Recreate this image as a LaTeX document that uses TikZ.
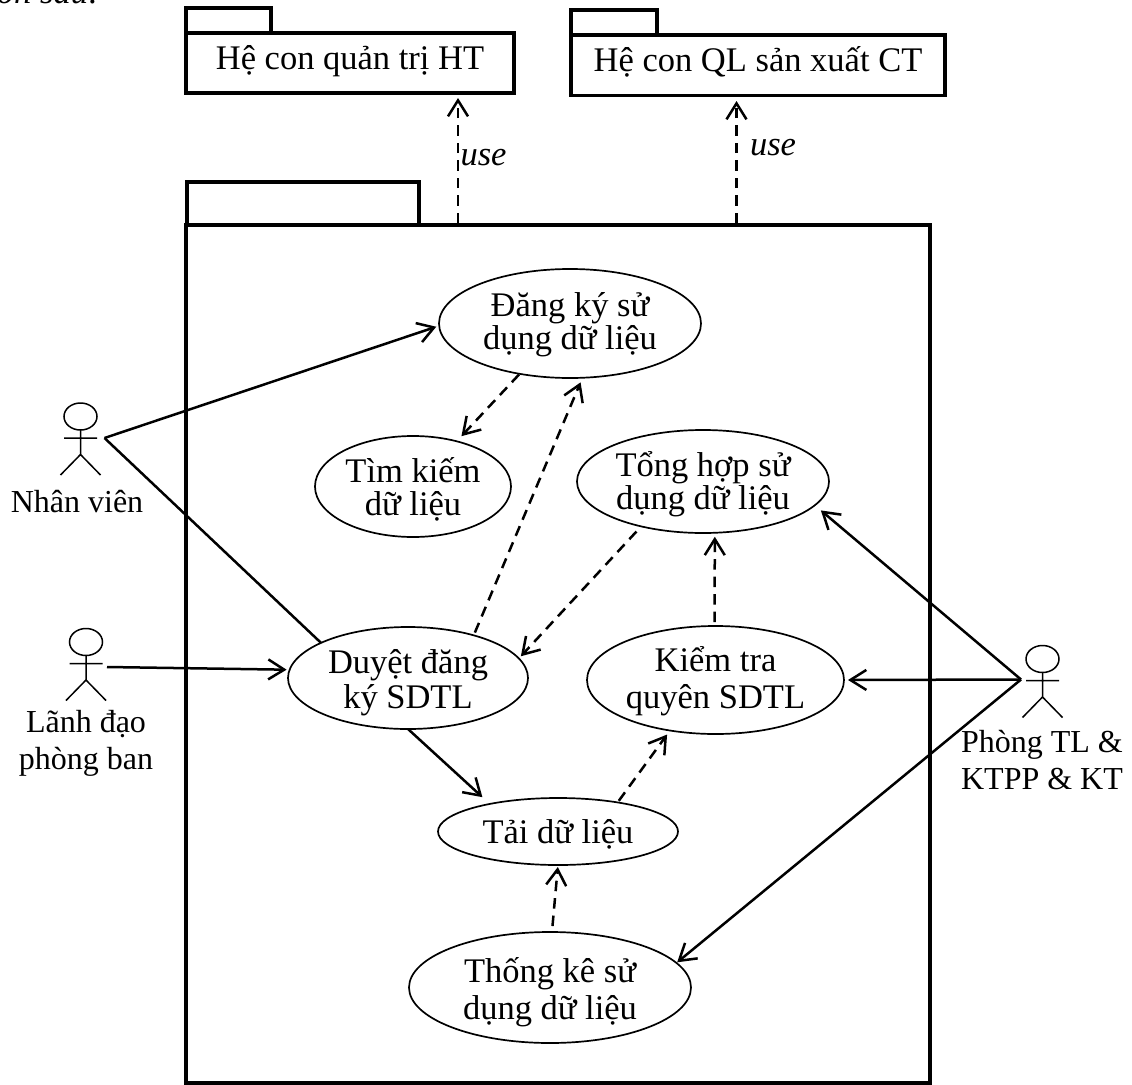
\documentclass[tikz,border=0pt]{standalone}
\usepackage{fontspec}
\setmainfont{Liberation Serif}
\usetikzlibrary{arrows.meta,shapes.geometric}
\tikzset{
  x=1pt,y=-1pt,
  every node/.style={font=\fontsize{34.5}{37}\selectfont,align=center,inner sep=0pt,outer sep=0pt},
  uc/.style args={#1/#2/#3}{ellipse,draw,line width=1.7pt,minimum width=#1,minimum height=#2,
     font=\fontsize{34.5}{#3}\selectfont},
  pkg/.style={draw,line width=3.4pt},
  actorline/.style={line width=1.5pt},
  actorlabel/.style={font=\fontsize{32}{37}\selectfont},
  opentip/.style={-{Straight Barb[length=16pt,width=20pt,line width=2.5pt]}},
  assoc/.style={line width=2.5pt},
  dep/.style={line width=2.5pt,dash pattern=on 10.5pt off 7pt,opentip},
}
\newcommand{\lowertext}[2]{\raisebox{-#1}[\height][\depth]{#2}}
\newcommand{\actor}[2]{% x, y of head centre
  \draw[actorline] (#1,#2) circle[x radius=16.5,y radius=13.5];
  \draw[actorline] (#1,#2+13.5) -- (#1,#2+38)
    (#1-16.5,#2+21.5) -- (#1+16.5,#2+21.5)
    (#1-20,#2+58.5) -- (#1,#2+38) -- (#1+20,#2+58.5);
}
\begin{document}
\begin{tikzpicture}
\useasboundingbox (0,0) rectangle (1132,1084);
\begin{scope}
\clip (0,0) rectangle (1132,1084);
\node[anchor=base west,font=\fontsize{34.5}{37}\selectfont\itshape] (top) at (-3,3.5) {ồn sau:};
% packages
\draw[pkg] (186,33) -- (186,8) -- (271,8) -- (271,33);
\draw[pkg] (186,33) rectangle (514,93);
\node[anchor=base] (p1) at (350,69) {Hệ con quản trị HT};
\coordinate (p1b) at (458,98);
\draw[pkg] (571,35) -- (571,10) -- (657,10) -- (657,35);
\draw[pkg] (571,35) rectangle (945,95.5);
\node[anchor=base] (p2) at (758,71) {Hệ con QL sản xuất CT};
\coordinate (p2b) at (736.5,101);
\draw[pkg] (187,225) -- (187,182) -- (419,182) -- (419,225);
\draw[pkg] (186,1083) -- (186,225) -- (930,225) -- (930,1083) -- cycle;
\coordinate (m1) at (458,223);
\coordinate (m2) at (736.5,223);
% use cases
\node[uc=262pt/109pt/33pt] (a) at (570,323.5) {\lowertext{1pt}{Đăng ký sử}\\\lowertext{1pt}{dụng dữ liệu}};
\node[uc=196pt/101pt/33pt] (b) at (413,486.5) {\lowertext{2.5pt}{Tìm kiếm}\\\lowertext{2.5pt}{dữ liệu}};
\node[uc=252pt/103pt/33pt] (c) at (703,481.5) {\lowertext{3pt}{Tổng hợp sử}\\\lowertext{3pt}{dụng dữ liệu}};
\node[uc=240pt/102pt/35pt] (d) at (408,678) {\lowertext{5pt}{Duyệt đăng}\\\lowertext{5pt}{ký SDTL}};
\node[uc=257pt/108pt/37pt] (e) at (715.5,680) {\lowertext{1pt}{Kiểm tra}\\\lowertext{1pt}{quyên SDTL}};
\node[uc=240pt/67pt/37pt] (f) at (558,831.5) {\lowertext{3pt}{Tải dữ liệu}};
\node[uc=282pt/111pt/37pt] (g) at (550,987.5) {\lowertext{5pt}{Thống kê sử}\\\lowertext{5pt}{dụng dữ liệu}};
% actors
\actor{80.5}{416.5}
\actor{86}{642}
\actor{1042.5}{659}
\coordinate (A1e) at (104.5,438);
\coordinate (A2e) at (107,667);
\coordinate (A3e) at (1021,679.5);
\node[actorlabel] (n1) at (77,502) {Nhân viên};
\node[actorlabel] (n2) at (86,743) {Lãnh đạo\\phòng ban};
\node[actorlabel] (n3) at (1042,760) {Phòng TL \&\\KTPP \& KT};
% use labels
\node[anchor=base,font=\fontsize{34.5}{37}\selectfont\itshape] (u1) at (483.5,165) {use};
\node[anchor=base,font=\fontsize{34.5}{37}\selectfont\itshape] (u2) at (773,155) {use};
% connectors
\draw[dep] (m1) -- (p1b);
\draw[dep] (m2) -- (p2b);
\draw[assoc,opentip,shorten >=3pt] (A1e) -- (a.181);
\draw[assoc] (A1e) -- (d.158);
\draw[assoc,opentip,shorten >=3pt] (A2e) -- (d.176);
\draw[assoc,opentip,shorten >=4pt] (A3e) -- (e.0);
\draw[assoc,opentip,shorten >=8pt] (A3e) -- (c.348);
\draw[assoc,opentip,shorten >=1pt] (A3e) -- (g.11);
\draw[assoc,opentip,shorten >=10pt] (d.270) -- (f.158);
\draw[dep,shorten <=1pt,shorten >=7pt] (a.225) -- (b.46);
\draw[dep,shorten <=3pt,shorten >=5pt] (d.33) -- (a.283);
\draw[dep,shorten <=7pt,shorten >=3pt] (c.216) -- (d.10);
\draw[dep,shorten <=2pt,shorten >=5pt] (f.26) -- (e.228);
\draw[dep,shorten <=4pt,shorten >=4pt] (e.91) -- (c.283);
\draw[dep,shorten <=6pt,shorten >=2pt] (g.88) -- (f.270);
\end{scope}
\end{tikzpicture}
\end{document}
